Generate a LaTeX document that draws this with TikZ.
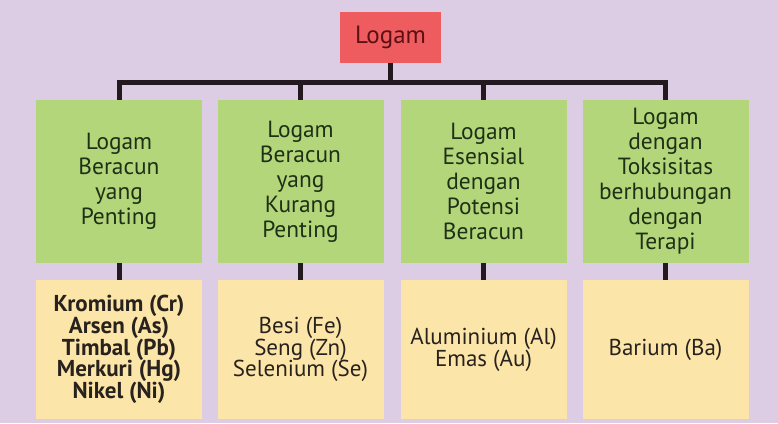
\documentclass[tikz,border=0pt]{standalone}
\usepackage{fontspec}
\setmainfont{PT Sans}
\definecolor{fondlavande}{RGB}{220,205,229}
\definecolor{logamrouge}{RGB}{238,92,96}
\definecolor{logamvert}{RGB}{180,214,122}
\definecolor{logamjaune}{RGB}{252,229,168}
\definecolor{textrouge}{RGB}{92,16,20}
\definecolor{textvert}{RGB}{30,48,22}
\definecolor{textnoir}{RGB}{40,34,30}
\definecolor{trait}{RGB}{35,26,32}

\begin{document}
\begin{tikzpicture}[x=1pt, y=-1pt,
			boiteroot/.style={fill=logamrouge, text=textrouge, minimum width=101pt, minimum height=51pt, inner sep=0pt, font=\fontsize{25}{28}\selectfont},
			boitegroupe/.style={fill=logamvert, text=textvert, minimum width=166pt, minimum height=163pt, inner sep=0pt, align=center, font=\fontsize{23.4}{25}\selectfont},
			boiteliste/.style={fill=logamjaune, text=textnoir, minimum width=166pt, minimum height=139pt, inner sep=0pt, align=center, font=\fontsize{23}{21.7}\selectfont},
			lien/.style={draw=trait, line width=5pt, line join=miter}]
			\fill[fondlavande] (0,0) rectangle (778,423);
			\node[boiteroot] (logam) at (390.5,37.5) {Logam};
			\coordinate (bus) at (0,82.5);
			% les quatre groupes
			\node[boitegroupe] (g1) at (119,181.5) {Logam\\Beracun\\yang\\Penting};
			\node[boitegroupe] (g2) at (300.5,181.5) {Logam\\Beracun\\yang\\Kurang\\Penting};
			\node[boitegroupe] (g3) at (483.5,181.5) {Logam\\Esensial\\dengan\\Potensi\\Beracun};
			\node[boitegroupe] (g4) at (665.5,181.5) {Logam\\dengan\\Toksisitas\\berhubungan\\dengan\\Terapi};
			% les exemples
			\node[boiteliste] (y1) at (119,349.5) {\bfseries Kromium (Cr)\\\bfseries Arsen (As)\\\bfseries Timbal (Pb)\\\bfseries Merkuri (Hg)\\\bfseries Nikel (Ni)};
			\node[boiteliste] (y2) at (300.5,349.5) {Besi (Fe)\\Seng (Zn)\\Selenium (Se)};
			\node[boiteliste] (y3) at (483.5,349.5) {Aluminium (Al)\\Emas (Au)};
			\node[boiteliste] (y4) at (665.5,349.5) {Barium (Ba)};
			% liaisons
			\draw[lien] (logam.south) -- (logam.south |- bus);
			\draw[lien] (g1.north) -- (g1.north |- bus) -- (g4.north |- bus) -- (g4.north);
			\foreach \i in {2,3}
				\draw[lien] (g\i.north |- bus) -- (g\i.north);
			\foreach \i in {1,...,4}
				\draw[lien] (g\i.south) -- (y\i.north);
		\end{tikzpicture}
\end{document}
